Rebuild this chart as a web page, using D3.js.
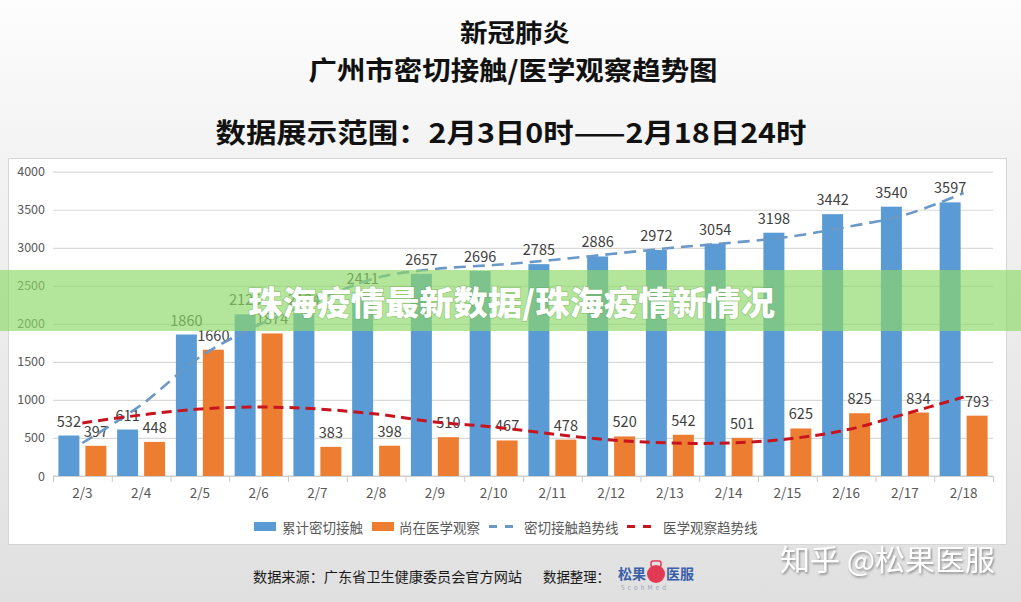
<!DOCTYPE html>
<html>
<head>
<meta charset="utf-8">
<script src="https://cdn.jsdelivr.net/npm/d3@7.9.0/dist/d3.min.js"></script>
<style>
  body { margin: 0; background: #fff; }
  svg { display: block; }
  text { font-family: "Noto Sans CJK SC", "Noto Sans", sans-serif; }
</style>
</head>
<body>
<div id="chart"></div>
<script>
const dates = ['2/3','2/4','2/5','2/6','2/7','2/8','2/9','2/10','2/11','2/12','2/13','2/14','2/15','2/16','2/17','2/18'];
const contacts  = [532, 611, 1860, 2125, 2134, 2411, 2657, 2696, 2785, 2886, 2972, 3054, 3198, 3442, 3540, 3597];
const observing = [397, 448, 1660, 1874, 383, 398, 510, 467, 478, 520, 542, 501, 625, 825, 834, 793];
// trend lines
const contactTrend = [434, 933, 1564, 1985, 2313, 2603, 2721, 2773, 2839, 2918, 2997, 3063, 3141, 3273, 3431, 3720];
const observeTrend = [697, 802, 881, 907, 881, 815, 710, 644, 552, 473, 434, 434, 486, 605, 815, 1038];
const yTicks = [0, 500, 1000, 1500, 2000, 2500, 3000, 3500, 4000];
const seriesNames = ['累计密切接触', '尚在医学观察', '密切接触趋势线', '医学观察趋势线'];

const width = 1021, height = 602;
const plot = { left: 53, right: 993, top: 171.7, bottom: 476 };
const BLUE = '#5b9bd5', ORANGE = '#ed7d31', BLUE_TREND = '#6b98c6', RED_TREND = '#c8141e';

const svg = d3.select('#chart').append('svg')
  .attr('width', width).attr('height', height);

// page background
const defs = svg.append('defs');
const bg = defs.append('linearGradient').attr('id', 'bg')
  .attr('x1', 0).attr('y1', 0).attr('x2', 0).attr('y2', 1);
bg.append('stop').attr('offset', '0%').attr('stop-color', '#fdfdfd');
bg.append('stop').attr('offset', '26%').attr('stop-color', '#f3f3f3');
bg.append('stop').attr('offset', '100%').attr('stop-color', '#e0e0e0');
const shadow = defs.append('filter').attr('id', 'wm')
  .attr('x', '-5%').attr('y', '-20%').attr('width', '110%').attr('height', '140%');
shadow.append('feDropShadow').attr('dx', 1).attr('dy', 1.5).attr('stdDeviation', 0.8)
  .attr('flood-color', '#7a7a7a').attr('flood-opacity', 0.9);

svg.append('rect').attr('width', width).attr('height', height).attr('fill', 'url(#bg)');

// titles
const titles = [
  { t: '新冠肺炎', x: 515, y: 31, size: 25, len: 110 },
  { t: '广州市密切接触/医学观察趋势图', x: 513, y: 68, size: 26, len: 409 },
  { t: '数据展示范围：2月3日0时——2月18日24时', x: 511, y: 131, size: 27, len: 591 }
];
svg.append('g').selectAll('text').data(titles).join('text')
  .attr('x', d => d.x).attr('y', d => d.y)
  .attr('text-anchor', 'middle').attr('dominant-baseline', 'central')
  .attr('font-size', d => d.size).attr('font-weight', 700).attr('fill', '#111')
  .attr('textLength', d => d.len).attr('lengthAdjust', 'spacingAndGlyphs')
  .text(d => d.t);

// chart card
svg.append('rect')
  .attr('x', 8.5).attr('y', 158.5).attr('width', 998).attr('height', 386)
  .attr('fill', '#fff').attr('stroke', '#d6d6d6');

const x = d3.scaleBand().domain(dates).range([plot.left, plot.right]);
const xs = d3.scaleBand().domain(['c', 'o']).range([0, x.bandwidth()])
  .paddingInner(0.222).paddingOuter(0.2);
const y = d3.scaleLinear().domain([0, 4000]).range([plot.bottom, plot.top]);
const xEdge = d3.scaleLinear().domain([0, dates.length]).range([plot.left, plot.right]);

// gridlines + y labels
const yAxis = svg.append('g')
  .attr('transform', `translate(${plot.left},0)`)
  .call(d3.axisLeft(y).tickValues(yTicks).tickFormat(d3.format('d'))
    .tickSize(-(plot.right - plot.left)).tickPadding(8));
yAxis.select('.domain').remove();
yAxis.selectAll('.tick line').attr('stroke', '#d9d9d9').attr('stroke-width', 1.2);
yAxis.selectAll('.tick text')
  .attr('font-family', '"Noto Sans", sans-serif').attr('font-size', 12.5).attr('fill', '#595959');

// x axis line with boundary ticks
const xTicks = svg.append('g')
  .attr('transform', `translate(0,${plot.bottom})`)
  .call(d3.axisBottom(xEdge).ticks(dates.length).tickFormat('').tickSize(6));
xTicks.selectAll('line, path').attr('stroke', '#c8c8c8');
xTicks.select('.domain').attr('d', `M${plot.left},0H${plot.right}`);

const xAxis = svg.append('g')
  .attr('transform', `translate(0,${plot.bottom})`)
  .call(d3.axisBottom(x).tickSize(0).tickPadding(12));
xAxis.select('.domain').remove();
xAxis.selectAll('.tick text')
  .attr('font-family', '"Noto Sans", sans-serif').attr('font-size', 13.5).attr('fill', '#595959');

// bars
const rows = dates.map((d, i) => ({ date: d, c: contacts[i], o: observing[i] }));
const groups = svg.append('g').selectAll('g').data(rows).join('g')
  .attr('transform', d => `translate(${x(d.date)},0)`);

groups.append('rect')
  .attr('x', xs('c')).attr('width', xs.bandwidth())
  .attr('y', d => y(d.c)).attr('height', d => y(0) - y(d.c))
  .attr('fill', BLUE);
groups.append('rect')
  .attr('x', xs('o')).attr('width', xs.bandwidth())
  .attr('y', d => y(d.o)).attr('height', d => y(0) - y(d.o))
  .attr('fill', ORANGE);

// trend lines
const line = d3.line()
  .x((d, i) => x(dates[i]) + x.bandwidth() / 2)
  .y(d => y(d))
  .curve(d3.curveCatmullRom.alpha(0.5));

svg.append('path').datum(contactTrend)
  .attr('d', line).attr('fill', 'none')
  .attr('stroke', BLUE_TREND).attr('stroke-width', 2.6)
  .attr('stroke-dasharray', '12 7');
svg.append('path').datum(observeTrend)
  .attr('d', line).attr('fill', 'none')
  .attr('stroke', RED_TREND).attr('stroke-width', 3)
  .attr('stroke-dasharray', '10 6');

// value labels
const labelStyle = sel => sel
  .attr('text-anchor', 'middle')
  .attr('font-family', '"Noto Sans", sans-serif')
  .attr('font-size', 14.5).attr('fill', '#404040');

groups.append('text')
  .attr('x', xs('c') + xs.bandwidth() / 2)
  .attr('y', d => y(d.c) - 9)
  .call(labelStyle)
  .text(d => d.c);
groups.append('text')
  .attr('x', xs('o') + xs.bandwidth() / 2)
  .attr('y', d => y(d.o) - 9)
  .call(labelStyle)
  .text(d => d.o);

// legend
const legend = svg.append('g').attr('font-size', 13.5).attr('fill', '#595959');
const legendItems = [
  { name: seriesNames[0], kind: 'rect', color: BLUE, x: 254, tx: 282 },
  { name: seriesNames[1], kind: 'rect', color: ORANGE, x: 372, tx: 399 },
  { name: seriesNames[2], kind: 'dash', color: BLUE_TREND, x: 489, tx: 524 },
  { name: seriesNames[3], kind: 'dash', color: RED_TREND, x: 627, tx: 663 }
];
legendItems.forEach(it => {
  if (it.kind === 'rect') {
    legend.append('rect').attr('x', it.x).attr('y', 522).attr('width', 22).attr('height', 9)
      .attr('fill', it.color);
  } else {
    legend.append('line').attr('x1', it.x).attr('x2', it.x + 29).attr('y1', 526.5).attr('y2', 526.5)
      .attr('stroke', it.color).attr('stroke-width', 3).attr('stroke-dasharray', '8 8');
  }
  legend.append('text').attr('x', it.tx).attr('y', 526.5)
    .attr('dominant-baseline', 'central').text(it.name);
});

// green banner overlay
svg.append('rect')
  .attr('x', 0).attr('y', 270).attr('width', width).attr('height', 61)
  .attr('fill', 'rgb(142,216,104)').attr('fill-opacity', 0.67);
svg.append('text')
  .attr('x', 248).attr('y', 301)
  .attr('dominant-baseline', 'central')
  .attr('font-size', 33).attr('font-weight', 900).attr('fill', '#fff')
  .attr('textLength', 527).attr('lengthAdjust', 'spacingAndGlyphs')
  .style('paint-order', 'stroke').attr('stroke', 'rgba(90,150,70,0.35)').attr('stroke-width', 1.5)
  .text('珠海疫情最新数据/珠海疫情新情况');

// footer
const foot = svg.append('g').attr('font-size', 14).attr('fill', '#1a1a1a');
foot.append('text').attr('x', 253).attr('y', 576).attr('dominant-baseline', 'central')
  .attr('textLength', 269).attr('lengthAdjust', 'spacingAndGlyphs')
  .text('数据来源：广东省卫生健康委员会官方网站');
foot.append('text').attr('x', 543).attr('y', 576).attr('dominant-baseline', 'central')
  .attr('textLength', 67).attr('lengthAdjust', 'spacingAndGlyphs')
  .text('数据整理：');

// logo
const logo = svg.append('g');
logo.append('text').attr('x', 618).attr('y', 573).attr('dominant-baseline', 'central')
  .attr('font-size', 14).attr('font-weight', 700).attr('fill', '#3a5fa8').text('松果');
logo.append('circle').attr('cx', 656).attr('cy', 574).attr('r', 9).attr('fill', '#e23a55');
logo.append('rect').attr('x', 651).attr('y', 561).attr('width', 10).attr('height', 6)
  .attr('fill', 'none').attr('stroke', '#e23a55').attr('stroke-width', 1.5).attr('rx', 2);
logo.append('text').attr('x', 666).attr('y', 573).attr('dominant-baseline', 'central')
  .attr('font-size', 14).attr('font-weight', 700).attr('fill', '#3a5fa8').text('医服');
logo.append('text').attr('x', 621).attr('y', 587).attr('dominant-baseline', 'central')
  .attr('font-size', 6).attr('fill', '#9aa3b5').attr('letter-spacing', 3.2)
  .attr('font-family', '"Liberation Sans", sans-serif').text('ScohMed');

// watermark
svg.append('text')
  .attr('x', 780).attr('y', 558).attr('dominant-baseline', 'central')
  .attr('font-size', 29).attr('fill', '#ffffff')
  .attr('textLength', 215).attr('lengthAdjust', 'spacingAndGlyphs')
  .attr('filter', 'url(#wm)')
  .text('知乎 @松果医服');
</script>
</body>
</html>
